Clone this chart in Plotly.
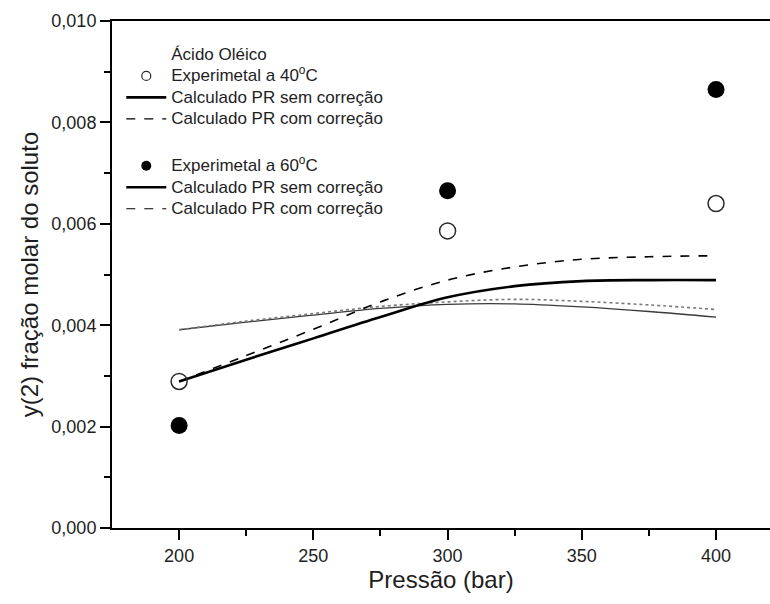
import plotly.graph_objects as go

# ---- data ----
pressao_exp = [200, 300, 400]
exp_40 = [0.00289, 0.00586, 0.00640]
exp_60 = [0.00202, 0.00665, 0.00865]

pressao_calc = [200, 225, 250, 275, 300, 325, 350, 375, 400]
calc40_sem = [0.00289, 0.00332, 0.00374, 0.00416, 0.00455, 0.00477, 0.00487, 0.00489, 0.00489]
calc40_com = [0.00289, 0.00340, 0.00392, 0.00446, 0.00489, 0.00515, 0.00530, 0.00535, 0.00537]
calc60_sem = [0.00391, 0.00406, 0.00420, 0.00433, 0.00441, 0.00442, 0.00436, 0.00427, 0.00416]
calc60_com = [0.00391, 0.00408, 0.00423, 0.00437, 0.00446, 0.00451, 0.00447, 0.00440, 0.00431]

legend_title = "Ácido Oléico"
lbl_exp40 = "Experimetal a 40<sup>o</sup>C"
lbl_exp60 = "Experimetal a 60<sup>o</sup>C"
lbl_sem = "Calculado PR sem correção"
lbl_com = "Calculado PR com correção"

FONT = "Liberation Sans, Arial, sans-serif"
TXT = "#1e1e1e"

fig = go.Figure()

# ---- plotted curves ----
fig.add_trace(go.Scatter(x=pressao_calc, y=calc60_sem, mode="lines",
                         line=dict(color="#3a3a3a", width=1.3, shape="spline"), showlegend=False))
fig.add_trace(go.Scatter(x=pressao_calc, y=calc60_com, mode="lines",
                         line=dict(color="#7a7a7a", width=1.6, dash="dot", shape="spline"), showlegend=False))
fig.add_trace(go.Scatter(x=pressao_calc, y=calc40_com, mode="lines",
                         line=dict(color="black", width=1.6, dash="dash", shape="spline"), showlegend=False))
fig.add_trace(go.Scatter(x=pressao_calc, y=calc40_sem, mode="lines",
                         line=dict(color="black", width=2.6, shape="spline"), showlegend=False))
fig.add_trace(go.Scatter(x=pressao_exp, y=exp_40, mode="markers",
                         marker=dict(symbol="circle-open", size=16, color="#2a2a2a", line=dict(width=1.5)),
                         showlegend=False))
fig.add_trace(go.Scatter(x=pressao_exp, y=exp_60, mode="markers",
                         marker=dict(symbol="circle", size=17, color="black"), showlegend=False))


# ---- legend entries ----
def big(s):
    return '<span style="font-size:17px">' + s + "</span>"


def leg(name, group, **kw):
    fig.add_trace(go.Scatter(x=[None], y=[None], name=big(name), legendgroup=group, **kw))


leg(legend_title, "a", mode="markers", marker=dict(color="rgba(0,0,0,0)", size=1))
leg(lbl_exp40, "a", mode="markers",
    marker=dict(symbol="circle-open", size=9, color="#2a2a2a", line=dict(width=1.2)))
leg(lbl_sem, "a", mode="lines", line=dict(color="black", width=2.6))
leg(lbl_com, "a", mode="lines", line=dict(color="black", width=1.2, dash="dash"))
leg(lbl_exp60, "b", mode="markers", marker=dict(symbol="circle", size=10, color="black"))
leg(lbl_sem, "b", mode="lines", line=dict(color="black", width=2.6))
leg(lbl_com, "b", mode="lines", line=dict(color="black", width=1.2, dash="dash"))

fig.update_layout(
    width=770, height=604,
    margin=dict(l=112, r=0, t=21, b=76),
    paper_bgcolor="white", plot_bgcolor="white",
    separators=",.",
    font=dict(family=FONT, color=TXT, size=16),
    legend=dict(x=0.0141, y=0.965, xanchor="left", yanchor="top",
                bgcolor="rgba(0,0,0,0)", font=dict(size=14.2, family=FONT, color=TXT),
                tracegroupgap=25.5, traceorder="grouped", itemwidth=40),
    xaxis=dict(range=[175, 420.1], showgrid=False, zeroline=False,
               showline=True, linecolor="black", linewidth=2, mirror=True,
               tickmode="array", tickvals=[200, 250, 300, 350, 400],
               ticks="outside", ticklen=10, tickwidth=2, tickcolor="black",
               minor=dict(tickmode="array", tickvals=[225, 275, 325, 375, 425],
                          ticks="outside", ticklen=6, tickwidth=2, tickcolor="black"),
               tickfont=dict(size=18, family=FONT, color=TXT),
               title=dict(text="Pressão (bar)", font=dict(size=24, family=FONT, color=TXT), standoff=0)),
    yaxis=dict(range=[0, 0.010], showgrid=False, zeroline=False,
               showline=True, linecolor="black", linewidth=2, mirror=False,
               tickmode="array", tickvals=[0, 0.002, 0.004, 0.006, 0.008, 0.010],
               tickformat=".3f",
               ticks="outside", ticklen=10, tickwidth=2, tickcolor="black",
               minor=dict(tickmode="array", tickvals=[0.001, 0.003, 0.005, 0.007, 0.009],
                          ticks="outside", ticklen=6, tickwidth=2, tickcolor="black"),
               tickfont=dict(size=18, family=FONT, color=TXT),
               title=dict(text="y(2) fração molar do soluto", font=dict(size=24, family=FONT, color=TXT), standoff=6)),
)

fig.write_html("out.html")
